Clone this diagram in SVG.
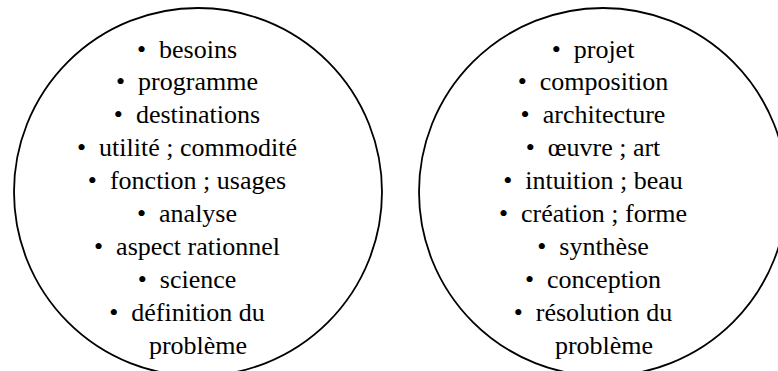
<svg xmlns="http://www.w3.org/2000/svg" width="778" height="371" viewBox="0 0 778 371">
<style>
.c{fill:none;stroke:#000;stroke-width:1.8}
</style>
<rect width="778" height="371" fill="#fff"/>
<g id="left" font-family="Liberation Serif, DejaVu Serif, serif" font-size="26" text-anchor="middle" fill="#000">
<circle class="c" cx="198" cy="192" r="184"/>
<text x="187" y="57.5">•&#160; besoins</text>
<text x="187" y="90.4">•&#160; programme</text>
<text x="187" y="123.3">•&#160; destinations</text>
<text x="187" y="156.2">•&#160; utilité ; commodité</text>
<text x="187" y="189.1">•&#160; fonction ; usages</text>
<text x="187" y="222">•&#160; analyse</text>
<text x="187" y="254.9">•&#160; aspect rationnel</text>
<text x="187" y="287.8">•&#160; science</text>
<text x="187" y="320.7">•&#160; définition du</text>
<text x="198" y="353.6">problème</text>
</g>
<g id="right" font-family="Liberation Serif, DejaVu Serif, serif" font-size="26" text-anchor="middle" fill="#000">
<circle class="c" cx="603" cy="192" r="184"/>
<text x="593" y="57.5">•&#160; projet</text>
<text x="593" y="90.4">•&#160; composition</text>
<text x="593" y="123.3">•&#160; architecture</text>
<text x="593" y="156.2">•&#160; œuvre ; art</text>
<text x="593" y="189.1">•&#160; intuition ; beau</text>
<text x="593" y="222">•&#160; création ; forme</text>
<text x="593" y="254.9">•&#160; synthèse</text>
<text x="593" y="287.8">•&#160; conception</text>
<text x="593" y="320.7">•&#160; résolution du</text>
<text x="604" y="353.6">problème</text>
</g>
<g id="connectors"/>
</svg>
